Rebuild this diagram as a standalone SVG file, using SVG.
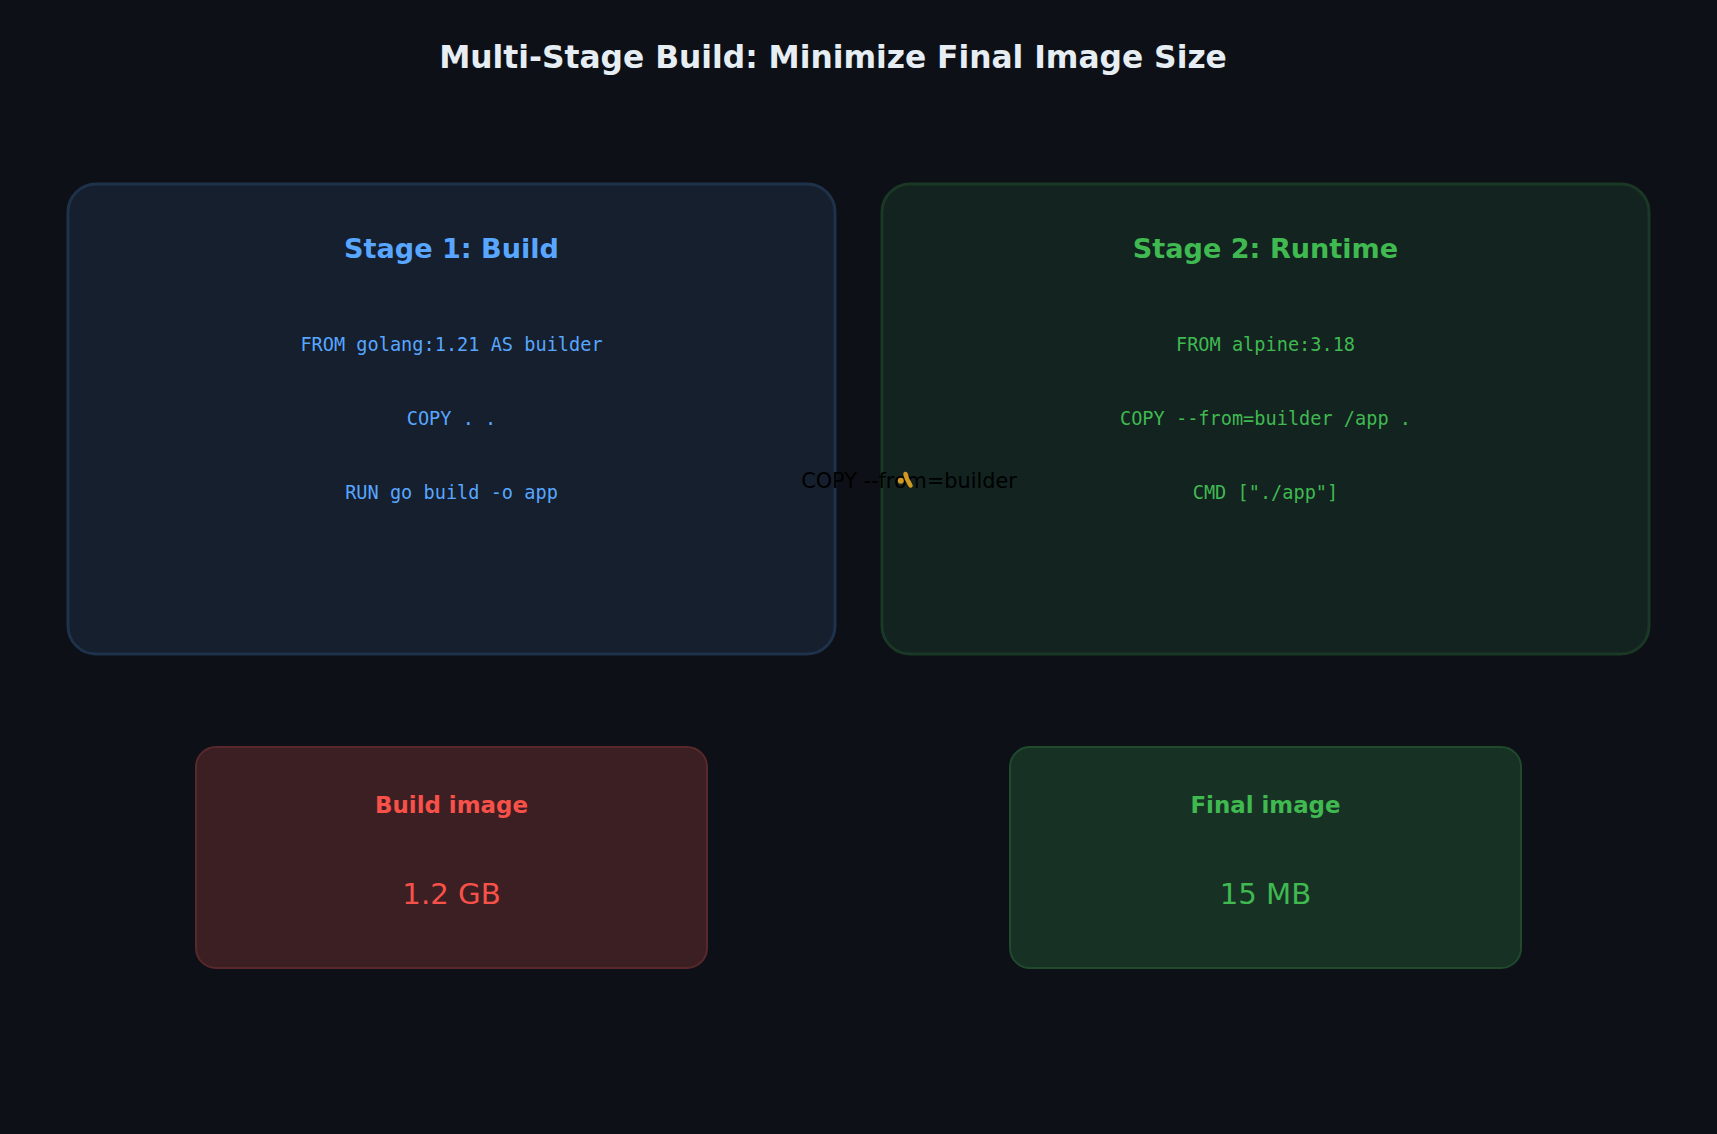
<svg xmlns="http://www.w3.org/2000/svg" width="1717" height="1134" viewBox="0 0 1717 1134">
  <style>
    .title { font-family: "DejaVu Sans", "Liberation Sans", sans-serif; font-weight: bold; font-size: 31.3px; fill: #e6edf3; text-anchor: middle; }
    .stitle { font-family: "DejaVu Sans", "Liberation Sans", sans-serif; font-weight: bold; font-size: 27.1px; text-anchor: middle; }
    .code { font-family: "DejaVu Sans Mono", "Liberation Mono", monospace; font-size: 18.6px; text-anchor: middle; }
    .ilabel { font-family: "DejaVu Sans", "Liberation Sans", sans-serif; font-weight: bold; font-size: 22.9px; text-anchor: middle; }
    .size { font-family: "DejaVu Sans", "Liberation Sans", sans-serif; font-size: 29.2px; text-anchor: middle; }
    .elabel { font-family: "DejaVu Sans", "Liberation Sans", sans-serif; font-size: 20.8px; fill: #000000; text-anchor: middle; }
    .blue { fill: #58a6ff; }
    .green { fill: #3fb950; }
    .red { fill: #f85149; }
  </style>
  <rect x="0" y="0" width="1717" height="1134" fill="#0d1117"/>
  <text class="title" x="833" y="68">Multi-Stage Build: Minimize Final Image Size</text>

  <g id="stage1">
    <rect x="68" y="184" width="767" height="470" rx="28" fill="#151f2d" stroke="#1e324b" stroke-width="3"/>
    <text class="stitle blue" x="451.5" y="258">Stage 1: Build</text>
    <text class="code blue" x="451.5" y="350.5">FROM golang:1.21 AS builder</text>
    <text class="code blue" x="451.5" y="424.5">COPY . .</text>
    <text class="code blue" x="451.5" y="498.5">RUN go build -o app</text>
  </g>

  <g id="stage2">
    <rect x="882" y="184" width="767" height="470" rx="28" fill="#132320" stroke="#1a3825" stroke-width="3"/>
    <text class="stitle green" x="1265.5" y="258">Stage 2: Runtime</text>
    <text class="code green" x="1265.5" y="350.5">FROM alpine:3.18</text>
    <text class="code green" x="1265.5" y="424.5">COPY --from=builder /app .</text>
    <text class="code green" x="1265.5" y="498.5">CMD ["./app"]</text>
  </g>

  <g id="build-image">
    <rect x="196" y="747" width="511" height="221" rx="20" fill="#3c1f22" stroke="#59282c" stroke-width="2"/>
    <text class="ilabel red" x="451.5" y="812.5">Build image</text>
    <text class="size red" x="451.5" y="904">1.2 GB</text>
  </g>

  <g id="final-image">
    <rect x="1010" y="747" width="511" height="221" rx="20" fill="#173224" stroke="#1f4a2c" stroke-width="2"/>
    <text class="ilabel green" x="1265.5" y="812.5">Final image</text>
    <text class="size green" x="1265.5" y="904">15 MB</text>
  </g>

  <g id="connectors">
    <text class="elabel" x="909" y="488">COPY --from=builder</text>
    <circle cx="900.8" cy="480.8" r="3" fill="#d29922"/>
    <path d="M905.5 474 L907 479 L910.5 485.5" stroke="#d29922" stroke-width="4.5" stroke-linecap="round" stroke-linejoin="round" fill="none"/>
  </g>
</svg>
